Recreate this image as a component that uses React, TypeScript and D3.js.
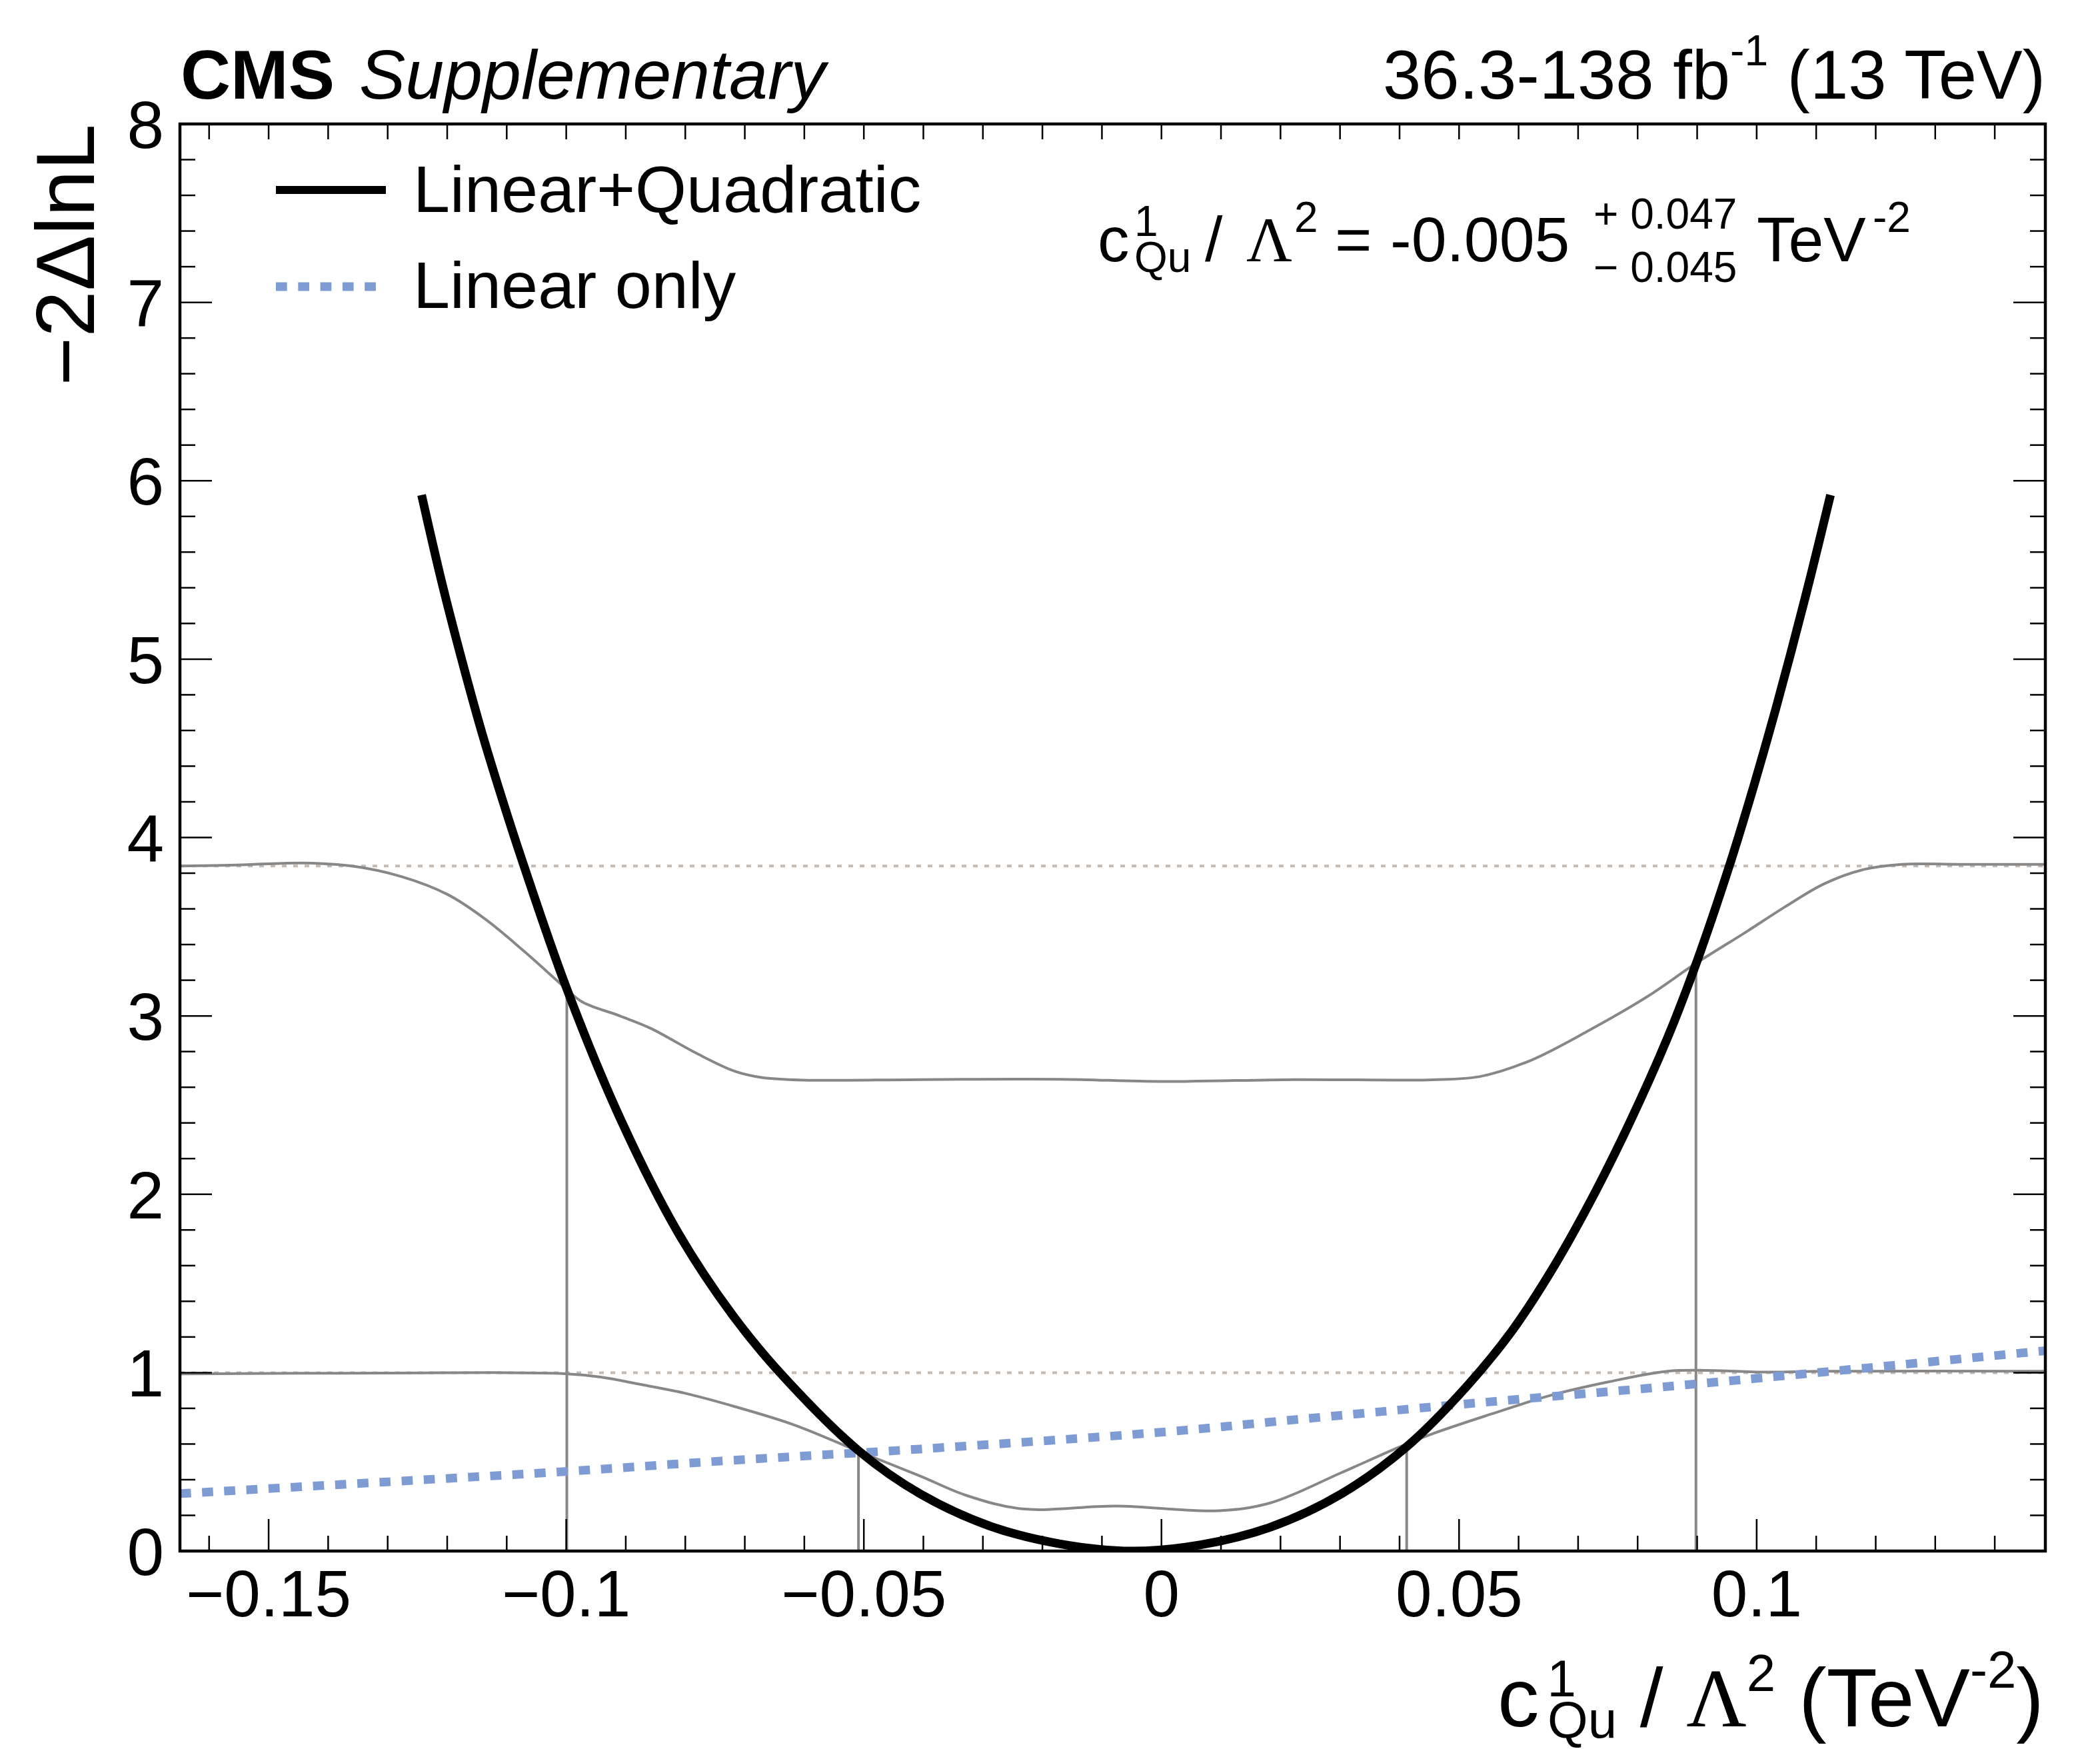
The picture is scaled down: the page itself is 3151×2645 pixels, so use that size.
import React from "react";
import * as d3 from "d3";

// canvas
const W = 3151;
const H = 2645;
const frame = { left: 270, right: 3069, top: 186, bottom: 2327 };

// axis ranges and ticks
const xDomain: [number, number] = [-0.1649, 0.1485];
const yDomain: [number, number] = [0, 8];
const xMajor = [-0.15, -0.1, -0.05, 0, 0.05, 0.1];
const xMajorLabels = ["\u22120.15", "\u22120.1", "\u22120.05", "0", "0.05", "0.1"];
const yMajor = [0, 1, 2, 3, 4, 5, 6, 7, 8];
const xMinor = d3.range(-16, 15).map((i) => i / 100);
const yMinor = d3.range(0, 41).map((i) => i / 5);

// Linear+Quadratic scan
const quadX = [
  -0.1243, -0.1209, -0.1175, -0.1141, -0.1108, -0.1072, -0.1, -0.091, -0.0813, -0.072, -0.0641,
  -0.0508, -0.0405, -0.0288, -0.017, -0.005, 0.0066, 0.0184, 0.0302, 0.0412, 0.0512, 0.0588,
  0.0653, 0.0719, 0.0785, 0.085, 0.0898, 0.0954, 0.0997, 0.1027, 0.1057, 0.1091, 0.1124,
];
const quadY = [
  5.92, 5.43, 4.99, 4.58, 4.22, 3.85, 3.16, 2.43, 1.79, 1.32, 1.0, 0.56, 0.32, 0.14, 0.04, 0.0,
  0.035, 0.135, 0.32, 0.585, 0.92, 1.23, 1.56, 1.95, 2.39, 2.875, 3.29, 3.84, 4.31, 4.66, 5.03,
  5.47, 5.92,
];

// Linear only scan
const linX = [-0.1649, -0.13, -0.0997, -0.072, -0.0405, 0.0003, 0.0223, 0.0512, 0.0896, 0.1485];
const linY = [0.322, 0.388, 0.447, 0.509, 0.572, 0.667, 0.736, 0.825, 0.936, 1.123];

// threshold curves (grey)
const thr95X = [
  -0.1649, -0.1553, -0.1443, -0.136, -0.1276, -0.1199, -0.1135, -0.107, -0.1006, -0.0974, -0.091,
  -0.0858, -0.0781, -0.0717, -0.0672, -0.0602, -0.0405, -0.017, 0.0003, 0.0223, 0.0398, 0.0456,
  0.0535, 0.062, 0.0719, 0.0817, 0.0896, 0.0982, 0.1047, 0.1113, 0.1179, 0.1244, 0.1343, 0.1485,
];
const thr95Y = [
  3.84, 3.846, 3.857, 3.84, 3.78, 3.68, 3.54, 3.36, 3.17, 3.08, 3.0, 2.93, 2.79, 2.69, 2.655, 2.64,
  2.643, 2.645, 2.632, 2.643, 2.64, 2.642, 2.66, 2.75, 2.92, 3.11, 3.29, 3.47, 3.61, 3.74, 3.82,
  3.85, 3.85, 3.85,
];
const thr68X = [
  -0.1649, -0.13, -0.1006, -0.0942, -0.0878, -0.0801, -0.0717, -0.0617, -0.0508, -0.0405, -0.0327,
  -0.0233, -0.0076, 0.0097, 0.0184, 0.0302, 0.0396, 0.0456, 0.0555, 0.0653, 0.0752, 0.085, 0.0916,
  0.1015, 0.1113, 0.1485,
];
const thr68Y = [
  0.993, 0.998, 0.995, 0.975, 0.936, 0.885, 0.81, 0.707, 0.558, 0.42, 0.311, 0.236, 0.252, 0.226,
  0.271, 0.439, 0.578, 0.658, 0.769, 0.872, 0.949, 1.008, 1.013, 1.003, 1.008, 1.008,
];

// crossings of the scan with the threshold curves
const crossX = [-0.0999, -0.0509, 0.0412, 0.0898];
const crossY = [3.15, 0.56, 0.585, 3.29];

// reference levels
const refLevels = [1, 3.84];

const FONT = "'Liberation Sans', Arial, Helvetica, sans-serif";
const SERIF = "'Liberation Serif', 'Times New Roman', serif";
const GREY = "#878787";
const BLUE = "#7e9bd3";

const zip = (xs: number[], ys: number[]) => xs.map((x, i) => [x, ys[i]] as [number, number]);

export default function App() {
  const x = d3.scaleLinear().domain(xDomain).range([frame.left, frame.right]);
  const y = d3.scaleLinear().domain(yDomain).range([frame.bottom, frame.top]);

  const line = d3
    .line<[number, number]>()
    .x((d) => x(d[0]))
    .y((d) => y(d[1]))
    .curve(d3.curveCatmullRom.alpha(0.5));

  const quadPath = line(zip(quadX, quadY)) || "";
  const linPath = line(zip(linX, linY)) || "";
  const thr95Path = line(zip(thr95X, thr95Y)) || "";
  const thr68Path = line(zip(thr68X, thr68Y)) || "";

  const isMajorX = (v: number) => xMajor.some((m) => Math.abs(m - v) < 1e-6);
  const isMajorY = (v: number) => yMajor.some((m) => Math.abs(m - v) < 1e-6);

  const majLen = 48;
  const minLen = 23;

  return (
    <svg
      width={W}
      height={H}
      viewBox={`0 0 ${W} ${H}`}
      style={{ position: "absolute", left: 0, top: 0, background: "#fff" }}
      fontFamily={FONT}
    >
      <defs>
        <clipPath id="plotArea">
          <rect x={frame.left} y={frame.top} width={frame.right - frame.left} height={frame.bottom - frame.top} />
        </clipPath>
      </defs>
      <rect width={W} height={H} fill="#fff" />

      <g clipPath="url(#plotArea)">
        {refLevels.map((lv) => (
          <line
            key={lv}
            x1={frame.left}
            x2={frame.right}
            y1={y(lv)}
            y2={y(lv)}
            stroke="#c4bab2"
            strokeWidth={4}
            strokeDasharray="7 10"
          />
        ))}
        <path d={thr95Path} fill="none" stroke={GREY} strokeWidth={4} />
        <path d={thr68Path} fill="none" stroke={GREY} strokeWidth={4} />
        {crossX.map((cx, i) => (
          <line key={i} x1={x(cx)} x2={x(cx)} y1={y(0)} y2={y(crossY[i])} stroke={GREY} strokeWidth={4} />
        ))}
        <path d={linPath} fill="none" stroke={BLUE} strokeWidth={13} strokeDasharray="16.7 16.6" />
        <path d={quadPath} fill="none" stroke="#000" strokeWidth={13} />
      </g>

      {/* ticks */}
      <g stroke="#000" strokeWidth={2.5}>
        {xMinor.map((v) => {
          const len = isMajorX(v) ? majLen : minLen;
          return (
            <g key={`xt${v}`}>
              <line x1={x(v)} x2={x(v)} y1={frame.bottom} y2={frame.bottom - len} />
              <line x1={x(v)} x2={x(v)} y1={frame.top} y2={frame.top + minLen} />
            </g>
          );
        })}
        {yMinor.map((v) => {
          const len = isMajorY(v) ? majLen : minLen;
          return (
            <g key={`yt${v}`}>
              <line x1={frame.left} x2={frame.left + len} y1={y(v)} y2={y(v)} />
              <line x1={frame.right} x2={frame.right - len} y1={y(v)} y2={y(v)} />
            </g>
          );
        })}
      </g>

      <rect
        x={frame.left}
        y={frame.top}
        width={frame.right - frame.left}
        height={frame.bottom - frame.top}
        fill="none"
        stroke="#000"
        strokeWidth={4.5}
      />

      {/* tick labels */}
      {xMajor.map((v, i) => (
        <text key={`xl${v}`} x={x(v)} y={2425} fontSize={98} textAnchor="middle">
          {xMajorLabels[i]}
        </text>
      ))}
      {yMajor.map((v) => (
        <text key={`yl${v}`} x={246} y={y(v)} dy="0.36em" fontSize={100} textAnchor="end">
          {v}
        </text>
      ))}

      {/* axis titles */}
      <text transform={`translate(141,${frame.top}) rotate(-90)`} fontSize={125} textAnchor="end">
        {"\u22122\u0394lnL"}
      </text>
      <text x={3067} y={2590} fontSize={125} textAnchor="end">
        c
        <tspan fontSize={78} dx={12} dy={-45}>1</tspan>
        <tspan fontSize={78} dx={-43} dy={62}>Qu</tspan>
        <tspan dy={-17}>{" / "}</tspan>
        <tspan fontFamily={SERIF}>{"\u039B"}</tspan>
        <tspan fontSize={78} dy={-53}>2</tspan>
        <tspan dy={53}>{" (TeV"}</tspan>
        <tspan fontSize={78} dy={-58}>-2</tspan>
        <tspan dy={58}>)</tspan>
      </text>

      {/* header */}
      <text x={271} y={148} fontSize={104} fontWeight="bold">
        CMS
      </text>
      <text x={539} y={148} fontSize={104} fontStyle="italic">
        Supplementary
      </text>
      <text x={3069} y={148} fontSize={103} textAnchor="end">
        36.3-138 fb
        <tspan fontSize={64} dy={-50}>-1</tspan>
        <tspan dy={50}>{" (13 TeV)"}</tspan>
      </text>

      {/* legend */}
      <line x1={414} x2={579} y1={285} y2={285} stroke="#000" strokeWidth={12} />
      <text x={620} y={318} fontSize={99}>
        Linear+Quadratic
      </text>
      <line x1={414} x2={564} y1={430} y2={430} stroke={BLUE} strokeWidth={13} strokeDasharray="16.7 16.6" />
      <text x={620} y={462} fontSize={99}>
        Linear only
      </text>

      {/* fit result */}
      <text x={1647} y={392} fontSize={95}>
        c
        <tspan x={1702} y={354} fontSize={64}>1</tspan>
        <tspan x={1702} y={408} fontSize={64}>Qu</tspan>
        <tspan x={1808} y={392}>/</tspan>
        <tspan x={1870} y={392} fontFamily={SERIF}>{"\u039B"}</tspan>
        <tspan x={1942} y={348} fontSize={64}>2</tspan>
        <tspan x={2003} y={392}>=</tspan>
        <tspan x={2086} y={392}>-0.005</tspan>
        <tspan x={2391} y={343} fontSize={64}>+ 0.047</tspan>
        <tspan x={2391} y={423} fontSize={64}>{"\u2212 0.045"}</tspan>
        <tspan x={2636} y={392}>TeV</tspan>
        <tspan x={2810} y={348} fontSize={64}>-2</tspan>
      </text>
    </svg>
  );
}
